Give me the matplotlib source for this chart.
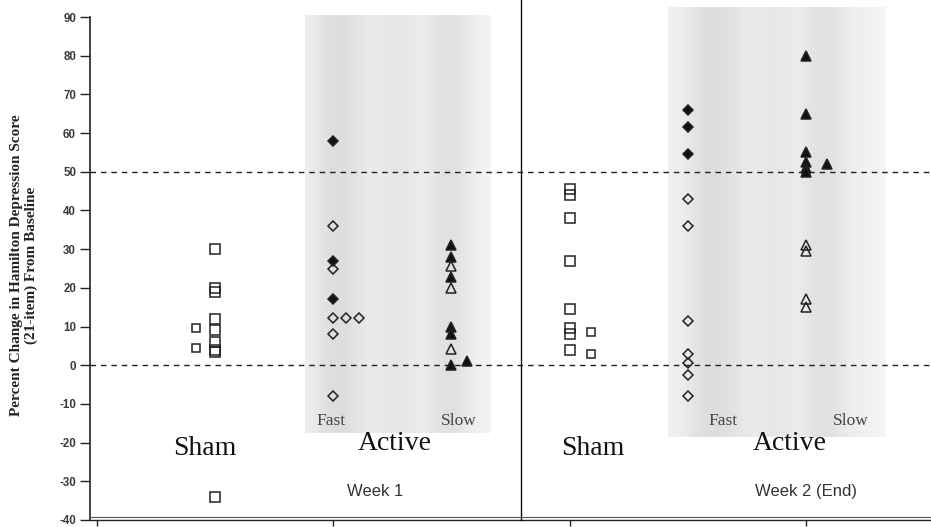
import matplotlib
matplotlib.use("Agg")
import matplotlib.pyplot as plt
import numpy as np

# ---------------- data ----------------
y_ticks = list(range(-40, 91, 10))
x_category_ticks = [0, 1, 2, 3]
reference_lines = [50, 0]
week_divider = 1.795

y_label = "Percent Change in Hamilton Depression Score\n(21-item) From Baseline"
group_labels = ["Sham", "Active", "Sham", "Active"]
group_label_x = [0.46, 1.26, 2.10, 2.93]
subgroup_labels = ["Fast", "Slow", "Fast", "Slow"]
subgroup_label_x = [0.99, 1.53, 2.65, 3.19]
week_labels = ["Week 1", "Week 2 (End)"]
week_label_x = [1.18, 3.00]

# column positions (category units)
pos_w1_sham, pos_w1_fast, pos_w1_slow = 0.5, 1.0, 1.5
pos_w2_sham, pos_w2_fast, pos_w2_slow = 2.0, 2.5, 3.0

# Week 1
w1_sham = [30, 20, 19, 12, 9, 6, 4, 3.5, -34]
w1_sham_side = [9.5, 4.5]
w1_fast_filled = [58, 27, 17]
w1_fast_open = [36, 25, 12.3, 8, -8]
w1_fast_open_side1 = [12.3]
w1_fast_open_side2 = [12.3]
w1_slow_filled = [31, 28, 22.7, 10, 8, 0]
w1_slow_filled_side = [1]
w1_slow_open = [25.7, 20, 4.3]

# Week 2
w2_sham = [45.5, 44, 38, 27, 14.5, 9.5, 8, 4]
w2_sham_side = [8.5, 3]
w2_fast_filled = [66, 61.5, 54.5]
w2_fast_open = [43, 36, 11.5, 3, 0.5, -2.5, -8]
w2_slow_filled = [80, 65, 55, 52.5, 51, 50]
w2_slow_filled_side = [52]
w2_slow_open = [31, 29.5, 17, 15]

# ---------------- figure ----------------
fig = plt.figure(figsize=(9.31, 5.27), dpi=100)
ax = fig.add_axes([90 / 931, 7 / 527, 841 / 931, 503 / 527])

XMIN, XMAX = -0.0275, 3.5285
YMIN, YMAX = -40, 90

# shaded background panels with vertical streaks
prof1 = np.array([[0.93, 0.88, 0.86, 0.87, 0.90, 0.92, 0.91, 0.89, 0.91, 0.93, 0.90, 0.87, 0.89, 0.93, 0.95]])
prof2 = np.array([[0.94, 0.91, 0.87, 0.86, 0.88, 0.91, 0.92, 0.90, 0.91, 0.93, 0.89, 0.87, 0.90, 0.93, 0.94, 0.96]])
ax.imshow(prof1, cmap="gray", vmin=0, vmax=1, aspect="auto",
          extent=[0.88, 1.665, -17.5, 90.5], zorder=0, clip_on=False, interpolation="bicubic")
ax.imshow(prof2, cmap="gray", vmin=0, vmax=1, aspect="auto",
          extent=[2.415, 3.335, -18.5, 92.5], zorder=0, clip_on=False, interpolation="bicubic")

# reference dashed lines
for v in reference_lines:
    ax.axhline(v, color="#222222", lw=1.0, ls=(0, (4, 3.5)), zorder=2)

# divider between weeks
ax.plot([week_divider, week_divider], [YMIN, 95], color="#111111", lw=1.0,
        clip_on=False, zorder=3)

EC = "#222222"


def col(x, vals, marker, filled, ms):
    ax.plot(np.full(len(vals), x), vals, linestyle="none", marker=marker, ms=ms,
            mfc=("#111111" if filled else "none"), mec=EC, mew=1.1,
            zorder=5, clip_on=False)


# Week 1
col(pos_w1_sham, w1_sham, "s", False, 7)
col(pos_w1_sham - 0.08, w1_sham_side, "s", False, 6)
col(pos_w1_fast, w1_fast_filled, "D", True, 5.5)
col(pos_w1_fast, w1_fast_open, "D", False, 5.5)
col(pos_w1_fast + 0.055, w1_fast_open_side1, "D", False, 5.5)
col(pos_w1_fast + 0.11, w1_fast_open_side2, "D", False, 5.5)
col(pos_w1_slow, w1_slow_filled, "^", True, 7)
col(pos_w1_slow + 0.065, w1_slow_filled_side, "^", True, 7)
col(pos_w1_slow, w1_slow_open, "^", False, 7)

# Week 2
col(pos_w2_sham, w2_sham, "s", False, 7)
col(pos_w2_sham + 0.09, w2_sham_side, "s", False, 6)
col(pos_w2_fast, w2_fast_filled, "D", True, 5.5)
col(pos_w2_fast, w2_fast_open, "D", False, 5.5)
col(pos_w2_slow, w2_slow_filled, "^", True, 7)
col(pos_w2_slow + 0.09, w2_slow_filled_side, "^", True, 7)
col(pos_w2_slow, w2_slow_open, "^", False, 7)

# text labels
serif = ["Liberation Serif", "DejaVu Serif"]
sans = ["Liberation Sans", "DejaVu Sans"]
for xl, t in zip(subgroup_label_x, subgroup_labels):
    ax.text(xl, -14.3, t, ha="center", va="center", fontsize=12.5,
            family=serif, color="#444444", zorder=6)
for i, (xl, t) in enumerate(zip(group_label_x, group_labels)):
    yv = -21.4 if t == "Sham" else -20.2
    ax.text(xl, yv, t, ha="center", va="center", fontsize=20,
            family=serif, color="#111111", zorder=6)
for xl, t in zip(week_label_x, week_labels):
    ax.text(xl, -32.7, t, ha="center", va="center", fontsize=12,
            family=sans, color="#333333", zorder=6)

# axes styling
ax.set_xlim(XMIN, XMAX)
ax.set_ylim(YMIN, YMAX)
ax.set_yticks(y_ticks)
ax.set_yticklabels([str(t) for t in y_ticks], fontsize=8.3, fontweight="bold",
                   color="#3a3a3a", family=sans)
ax.set_xticks(x_category_ticks)
ax.set_xticklabels([])
ax.tick_params(axis="y", direction="out", length=7, width=1.0, color="#222222", pad=3)
ax.tick_params(axis="x", direction="out", length=4, width=1.0, color="#222222")
for s in ["top", "right"]:
    ax.spines[s].set_visible(False)
ax.spines["left"].set_color("#222222")
ax.spines["left"].set_linewidth(1.2)
ax.spines["bottom"].set_color("#222222")
ax.spines["bottom"].set_linewidth(1.0)
ax.axhline(-39.35, color="#555555", lw=0.8, zorder=3, clip_on=False)

fig.text(24 / 931, 1 - 265 / 527, y_label, rotation=90, ha="center", va="center",
         fontsize=11, fontweight="bold", family=serif, color="#222222",
         multialignment="center", linespacing=1.1)

fig.savefig("out.png", dpi=100, facecolor="white")
